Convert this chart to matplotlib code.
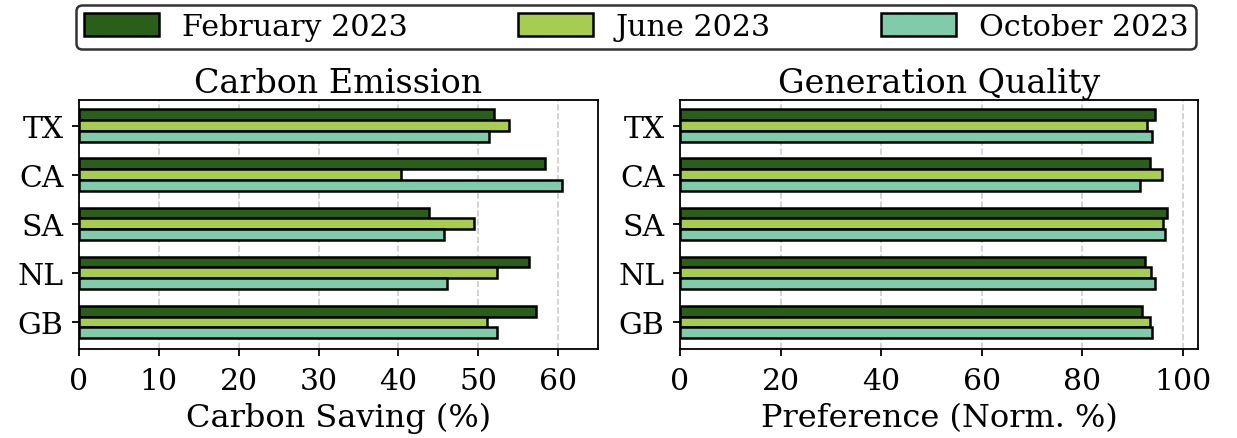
import numpy as np
import matplotlib.pyplot as plt

regions = ['TX', 'CA', 'SA', 'NL', 'GB']
months = ['February 2023', 'June 2023', 'October 2023']
colors = ['#2a5f1a', '#a6cc50', '#80cbaa']

# carbon saving (%) per region, one list per month
carbon_feb = [52.0, 58.4, 43.8, 56.4, 57.2]
carbon_jun = [53.9, 40.3, 49.5, 52.4, 51.1]
carbon_oct = [51.3, 60.5, 45.7, 46.1, 52.4]

# preference (norm. %)
pref_feb = [94.4, 93.4, 96.8, 92.5, 91.9]
pref_jun = [92.9, 95.8, 96.0, 93.6, 93.4]
pref_oct = [93.8, 91.4, 96.4, 94.4, 93.8]

plt.rcParams['font.family'] = 'DejaVu Serif'

fig = plt.figure(figsize=(12.37, 4.39), dpi=100)
ax1 = fig.add_axes([79/1237, 1 - 350/439, 519/1237, 249/439])
ax2 = fig.add_axes([680/1237, 1 - 350/439, 518/1237, 249/439])

y = np.arange(len(regions))
h = 0.22


def draw(ax, series, title, xlabel, xlim, ticks):
    for i, vals in enumerate(series):
        ax.barh(y + (i - 1) * h, vals, height=h, color=colors[i],
                edgecolor='black', linewidth=1.8, label=months[i], zorder=3)
    ax.set_yticks(y)
    ax.set_yticklabels(regions)
    ax.set_ylim(4.55, -0.52)
    ax.set_xlim(*xlim)
    ax.set_xticks(ticks)
    ax.grid(axis='x', linestyle='--', color='#cccccc', linewidth=1.2, zorder=0)
    ax.set_title(title, fontsize=24, pad=6)
    ax.set_xlabel(xlabel, fontsize=23, labelpad=5)
    ax.tick_params(labelsize=21.5, width=1.3, length=5)
    ax.tick_params(axis='x', pad=8)
    ax.tick_params(axis='y', pad=6)
    for s in ax.spines.values():
        s.set_linewidth(1.3)


draw(ax1, [carbon_feb, carbon_jun, carbon_oct], 'Carbon Emission',
     'Carbon Saving (%)', (0, 65), range(0, 61, 10))
draw(ax2, [pref_feb, pref_jun, pref_oct], 'Generation Quality',
     'Preference (Norm. %)', (0, 103), range(0, 101, 20))

handles, labels = ax1.get_legend_handles_labels()
leg = fig.legend(handles, labels, loc='center', ncol=3, fontsize=21.7,
                 bbox_to_anchor=(636/1237, 1 - 28/439),
                 handlelength=2.5, handleheight=0.8, handletextpad=0.75,
                 columnspacing=3.65, borderaxespad=0, fancybox=True,
                 edgecolor='#333333', framealpha=1, borderpad=0.25)
leg.get_frame().set_linewidth(1.8)

fig.savefig('out.png', dpi=100)
